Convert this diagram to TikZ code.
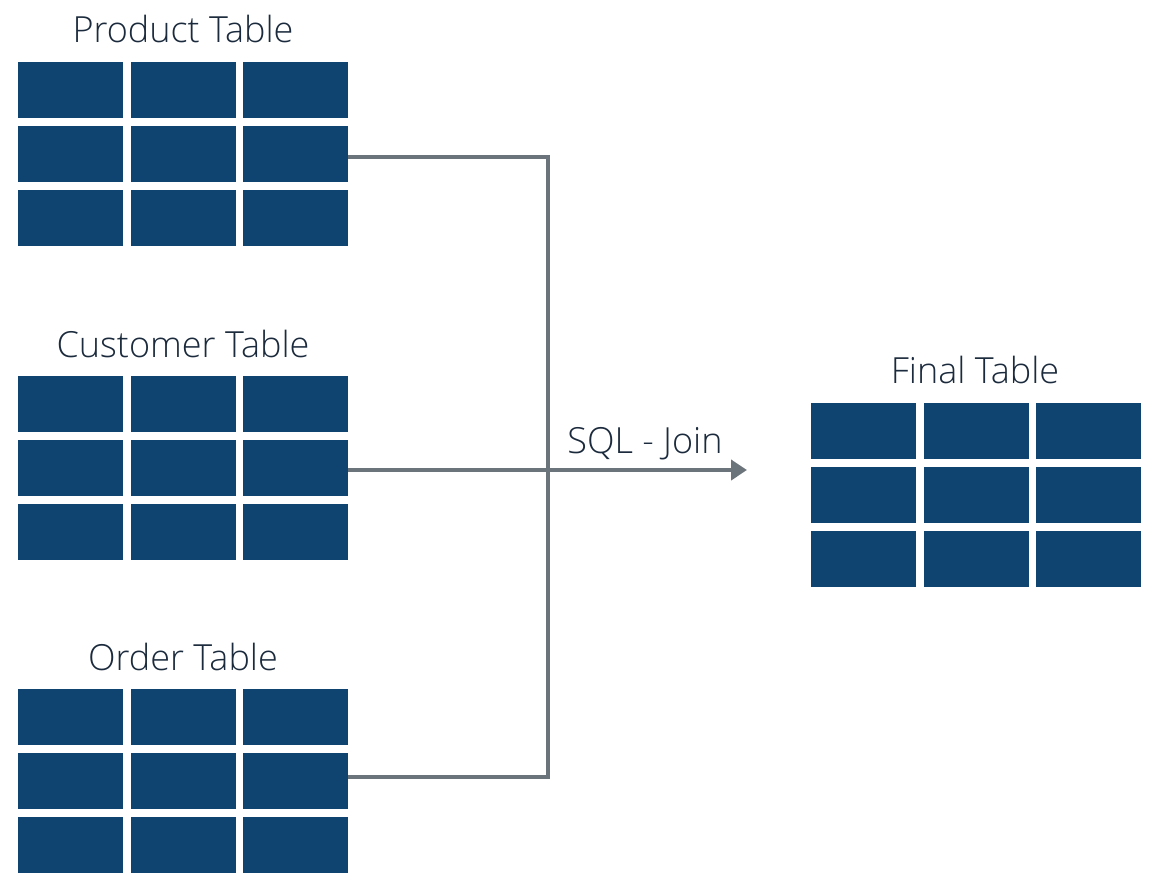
\documentclass[tikz,border=0pt]{standalone}
\usepackage{fontspec}
\setmainfont{Open Sans Light}
\usetikzlibrary{arrows.meta}
\definecolor{cellblue}{HTML}{0F4470}
\definecolor{linegray}{HTML}{6C747B}
\definecolor{txt}{HTML}{1B2A3C}
\begin{document}
\begin{tikzpicture}[x=1pt,y=-1pt,
  cell/.style={fill=cellblue,draw=none,minimum width=105pt,minimum height=56pt,inner sep=0pt,anchor=north west},
  ttl/.style={text=txt,font=\fontsize{36}{42}\selectfont,inner sep=0pt,anchor=base},
  conn/.style={draw=linegray,line width=4pt},
]
\useasboundingbox (0,0) rectangle (1176,881);
% tables: name, left x, top y
\foreach \t/\x/\y in {p/18/62, c/18/376, o/18/689, f/811/403}{
  \foreach \r in {1,2,3}{
    \foreach \k in {1,2,3}{
      \node[cell] (\t\r\k) at ({\x+(\k-1)*112.5},{\y+(\r-1)*64}) {};
    }
  }
}
\node[ttl] (tp) at (183,42) {Product Table};
\node[ttl] (tc) at (183,357) {Customer Table};
\node[ttl] (to) at (183,670) {Order Table};
\node[ttl] (tf) at (975,383) {Final Table};
\coordinate (jtop) at (548,157);
\coordinate (jbot) at (548,777);
\coordinate (aend) at (747,470);
\draw[conn] (p23.east |- jtop) -- (jtop) -- (jbot) -- (o23.east |- jbot);
\draw[conn,-{Triangle[length=16pt,width=20pt]}] (c23.east |- aend) -- (aend);
\node[ttl] (sql) at (645,453) {SQL - Join};
\end{tikzpicture}
\end{document}
